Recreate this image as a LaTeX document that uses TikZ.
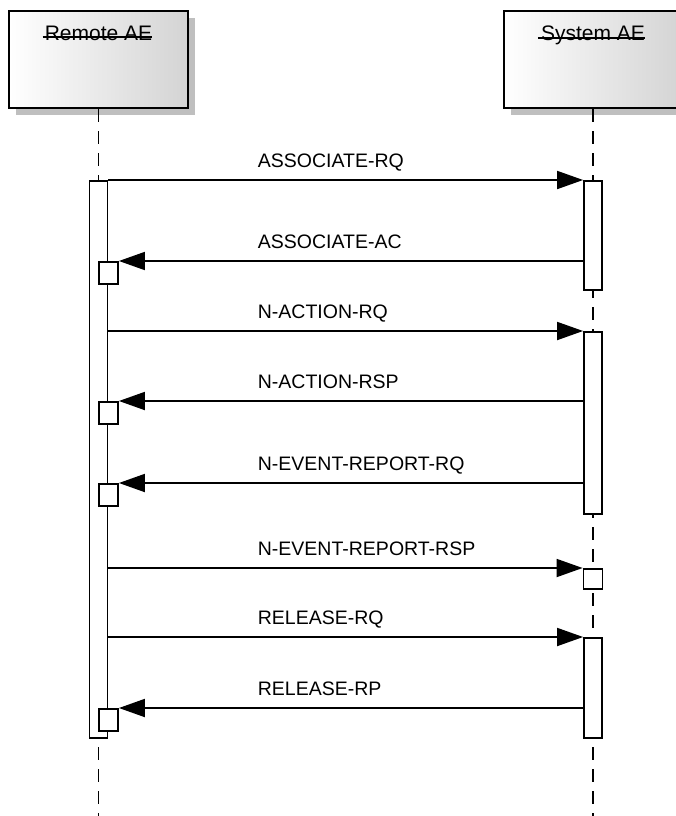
\documentclass[tikz,border=0pt]{standalone}
\usepackage{fontspec}
\setmainfont{Liberation Sans}
\usetikzlibrary{arrows.meta, positioning, calc, shadows}

\begin{document}
\begin{tikzpicture}[
    x=1pt, y=-1pt,
    actor/.style={rectangle, draw, line width=2pt, left color=white, middle color=white, right color=black!17, minimum width=179pt, minimum height=97pt, inner sep=0pt, drop shadow={shadow xshift=7pt, shadow yshift=-7pt, fill=black!25, draw=none, opacity=1}},
    actorname/.style={inner sep=0pt, font=\fontsize{21}{25}\selectfont},
    strike/.style={draw, line width=1.6pt},
    lifeline/.style={draw, line width=1.8pt, dash pattern=on 13pt off 9pt},
    actbar/.style={rectangle, draw, fill=white, line width=1.8pt, minimum width=18pt, inner sep=0pt, anchor=north},
    nested/.style={rectangle, draw, fill=white, line width=1.8pt, minimum width=19pt, minimum height=22pt, inner sep=0pt, anchor=north},
    msg/.style={draw, line width=1.8pt, -{Triangle[length=26pt, width=18pt]}},
    msglabel/.style={anchor=base west, yshift=13pt, inner sep=0pt, font=\fontsize{19.5}{23}\selectfont}
]
\useasboundingbox (0,0) rectangle (675,816);

% Actors
\node[actor] (remote) at (98.5,59.5) {};
\node[actor] (system) at (593,59.5) {};
\node[actorname, below=16pt of remote.north] (remotename) {Remote AE};
\node[actorname, below=16pt of system.north] (systemname) {System AE};
\draw[strike] ($(remotename.base west)+(-2,-3.5)$) -- ($(remotename.base east)+(0,-3.5)$);
\draw[strike] ($(systemname.base west)+(-3,-3)$) -- ($(systemname.base east)+(0,-3)$);

% Lifelines
\coordinate (remoteend) at (remote.south |- 0,816);
\coordinate (systemend) at (system.south |- 0,816);
\draw[lifeline] (remote.south) -- (remoteend);
\draw[lifeline] (system.south) -- (systemend);

% Activation bars
\node[actbar, minimum height=557pt] (rbar) at (98.5,180) {};
\node[actbar, minimum height=109pt] (sbar1) at (593,180) {};
\node[actbar, minimum height=182pt] (sbar2) at (593,331) {};
\node[nested, minimum height=20pt] (ssq) at (593,568) {};
\node[actbar, minimum height=100pt] (sbar3) at (593,637) {};
\node[nested] (rsq1) at (108.5,261) {};
\node[nested] (rsq2) at (108.5,401) {};
\node[nested] (rsq3) at (108.5,483) {};
\node[nested] (rsq4) at (108.5,708) {};

% Messages
\coordinate (lblx) at (257,0);
\draw[msg] (rbar.north east) -- (sbar1.north west) node[msglabel] at (lblx |- sbar1.north) {ASSOCIATE-RQ};
\draw[msg] (sbar1.west |- rsq1.north) -- (rsq1.north east) node[msglabel] at (lblx |- rsq1.north) {ASSOCIATE-AC};
\draw[msg] (rbar.east |- sbar2.north) -- (sbar2.north west) node[msglabel] at (lblx |- sbar2.north) {N-ACTION-RQ};
\draw[msg] (sbar2.west |- rsq2.north) -- (rsq2.north east) node[msglabel] at (lblx |- rsq2.north) {N-ACTION-RSP};
\draw[msg] (sbar2.west |- rsq3.north) -- (rsq3.north east) node[msglabel] at (lblx |- rsq3.north) {N-EVENT-REPORT-RQ};
\draw[msg] (rbar.east |- ssq.north) -- (ssq.north west) node[msglabel] at (lblx |- ssq.north) {N-EVENT-REPORT-RSP};
\draw[msg] (rbar.east |- sbar3.north) -- (sbar3.north west) node[msglabel] at (lblx |- sbar3.north) {RELEASE-RQ};
\draw[msg] (sbar3.west |- rsq4.north) -- (rsq4.north east) node[msglabel] at (lblx |- rsq4.north) {RELEASE-RP};

\end{tikzpicture}
\end{document}
